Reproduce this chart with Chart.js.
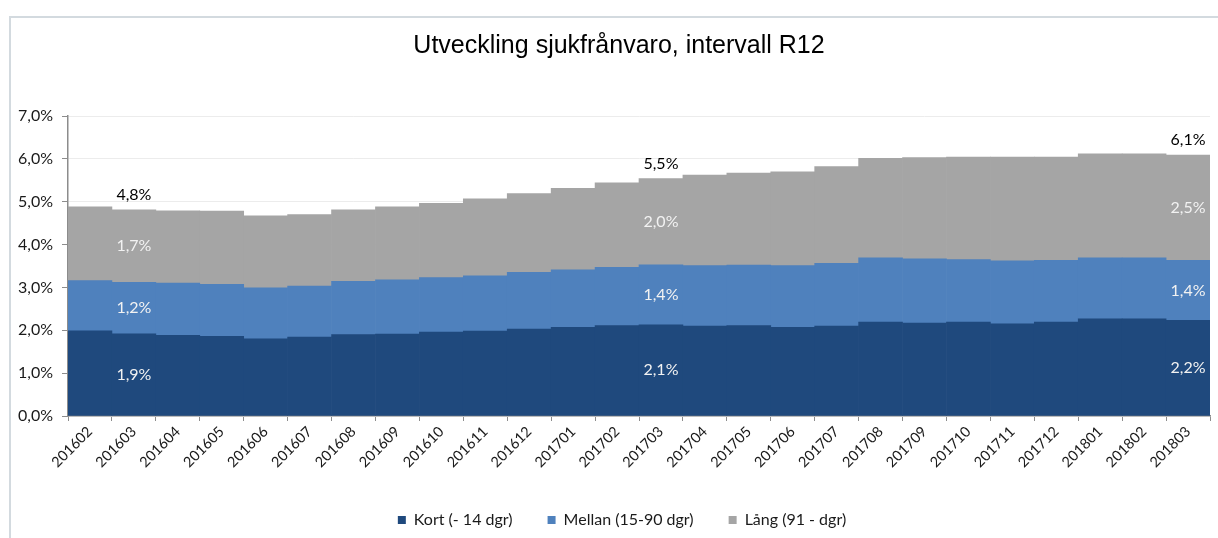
<!DOCTYPE html>
<html>
<head>
<meta charset="utf-8">
<script src="https://cdn.jsdelivr.net/npm/chart.js@4.4.1/dist/chart.umd.min.js"></script>
<style>
  html, body { margin: 0; padding: 0; background: #ffffff; }
  #wrap { position: relative; width: 1218px; height: 538px; overflow: hidden; }
  #frame { position: absolute; left: 9px; top: 16px; right: -10px; bottom: -10px;
           border-left: 2px solid #d3dadf; border-top: 2px solid #d3dadf; }
  #c { position: absolute; left: 0; top: 0; }
</style>
</head>
<body>
<div id="wrap">
  <div id="frame"></div>
  <canvas id="c" width="1218" height="538"></canvas>
</div>
<script>
const chartTitle = 'Utveckling sjukfrånvaro, intervall R12';
const categories = ['201602','201603','201604','201605','201606','201607','201608','201609','201610','201611','201612','201701','201702','201703','201704','201705','201706','201707','201708','201709','201710','201711','201712','201801','201802','201803'];
const seriesNames = ['Kort (- 14 dgr)', 'Mellan (15-90 dgr)', 'Lång (91 - dgr)'];
const kort   = [1.99,1.92,1.88,1.86,1.80,1.84,1.90,1.91,1.96,1.98,2.03,2.07,2.11,2.13,2.10,2.11,2.07,2.10,2.19,2.17,2.19,2.15,2.19,2.27,2.27,2.23];
const mellan = [1.17,1.20,1.22,1.21,1.19,1.19,1.24,1.27,1.27,1.29,1.32,1.34,1.36,1.40,1.41,1.41,1.44,1.46,1.50,1.50,1.46,1.47,1.44,1.42,1.42,1.40];
const lang   = [1.72,1.69,1.69,1.71,1.68,1.67,1.67,1.70,1.73,1.80,1.84,1.90,1.97,2.01,2.11,2.15,2.19,2.26,2.32,2.36,2.39,2.42,2.41,2.43,2.43,2.46];
const yTicks = [0, 1, 2, 3, 4, 5, 6, 7];
const labeledIndex = [1, 13, 25];

const colors = ['#1f497d', '#4f81bd', '#a5a5a5'];
const FONT = 'Lato, "Open Sans", "DejaVu Sans", sans-serif';
const fmt = v => v.toFixed(1).replace('.', ',') + '%';

const titlePlugin = {
  id: 'customTitle',
  afterDraw(chart) {
    const ctx = chart.ctx;
    ctx.save();
    ctx.font = '25px "Liberation Sans", Arial, sans-serif';
    ctx.fillStyle = '#000000';
    ctx.textAlign = 'center';
    ctx.textBaseline = 'alphabetic';
    ctx.fillText(chartTitle, 619, 53);
    ctx.restore();
  }
};

const labelPlugin = {
  id: 'barLabels',
  afterDatasetsDraw(chart) {
    const ctx = chart.ctx;
    ctx.save();
    ctx.font = '16px ' + FONT;
    ctx.textAlign = 'center';
    ctx.textBaseline = 'middle';
    labeledIndex.forEach(i => {
      let total = 0;
      let topY = null;
      chart.data.datasets.forEach((ds, d) => {
        const meta = chart.getDatasetMeta(d);
        const el = meta.data[i];
        const v = ds.data[i];
        total += v;
        ctx.fillStyle = '#f2f2f2';
        ctx.fillText(fmt(v), el.x, (el.y + el.base) / 2);
        topY = el.y;
      });
      const x = chart.getDatasetMeta(0).data[i].x;
      ctx.fillStyle = '#000000';
      ctx.fillText(fmt(total), x, topY - 15);
    });
    ctx.restore();
  }
};

const legendShift = {
  id: 'legendShift',
  afterLayout(chart) {
    const lg = chart.legend;
    if (lg) { lg.left += 17; lg.right += 17; }
  }
};

new Chart(document.getElementById('c'), {
  type: 'bar',
  data: {
    labels: categories,
    datasets: [
      { label: seriesNames[0], data: kort,   backgroundColor: colors[0] },
      { label: seriesNames[1], data: mellan, backgroundColor: colors[1] },
      { label: seriesNames[2], data: lang,   backgroundColor: colors[2] }
    ]
  },
  options: {
    responsive: false,
    animation: false,
    layout: { padding: { left: 0, right: 8, top: 116, bottom: 0 } },
    datasets: { bar: { barPercentage: 1, categoryPercentage: 1, borderWidth: 0 } },
    plugins: {
      title: { display: false },
      tooltip: { enabled: false },
      legend: {
        position: 'bottom',
        labels: {
          boxWidth: 8, boxHeight: 8, padding: 35,
          color: '#1a1a1a',
          font: { family: FONT, size: 16 }
        }
      }
    },
    scales: {
      x: {
        stacked: true,
        offset: true,
        grid: { offset: true, drawOnChartArea: false, drawTicks: true, tickLength: 5, color: '#8c8c8c' },
        border: { color: '#8c8c8c', width: 1.5 },
        ticks: {
          autoSkip: false, maxRotation: 45, minRotation: 45,
          color: '#1a1a1a', font: { family: FONT, size: 14.5 }, padding: 2
        },
        afterFit(scale) { scale.height = 61; }
      },
      y: {
        stacked: true,
        min: 0, max: 7,
        afterBuildTicks(scale) { scale.ticks = yTicks.map(v => ({ value: v })); },
        grid: { color: '#ececec', tickColor: '#8c8c8c', tickLength: 6 },
        border: { color: '#8c8c8c', width: 1.5 },
        ticks: {
          color: '#1a1a1a', font: { family: FONT, size: 16 }, padding: 9,
          callback: v => fmt(v)
        },
        afterFit(scale) { scale.width = 68; }
      }
    }
  },
  plugins: [titlePlugin, labelPlugin, legendShift]
});
</script>
</body>
</html>
